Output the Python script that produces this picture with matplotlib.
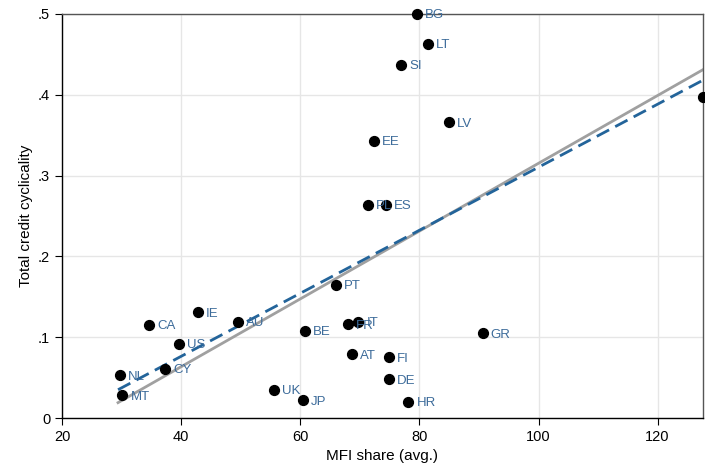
import numpy as np
import matplotlib.pyplot as plt
from matplotlib.ticker import FuncFormatter

plt.rcParams['font.family'] = ['Liberation Sans Narrow', 'Liberation Sans', 'DejaVu Sans']

# country points: MFI share vs total credit cyclicality
countries = ['BG', 'LT', 'SI', 'LV', 'EE', 'PL', 'ES', 'PT', 'FR', 'IT', 'BE',
             'AT', 'FI', 'DE', 'HR', 'UK', 'JP', 'GR', 'AU', 'IE', 'CA', 'US',
             'CY', 'NL', 'MT', '']
mfi_share = [79.6, 81.4, 76.9, 84.9, 72.3, 71.3, 74.4, 66.0, 68.0, 69.7, 60.8,
             68.7, 74.9, 74.9, 78.1, 55.6, 60.4, 90.6, 49.5, 42.8, 34.6, 39.6,
             37.3, 29.7, 30.1, 127.6]
cyclicality = [0.500, 0.463, 0.437, 0.366, 0.343, 0.264, 0.264, 0.165, 0.116,
               0.119, 0.108, 0.079, 0.075, 0.048, 0.020, 0.035, 0.022, 0.105,
               0.119, 0.131, 0.115, 0.092, 0.061, 0.053, 0.028, 0.397]

# fitted lines (endpoints)
fit_x = [29.4, 127.6]
fit_solid = [0.019, 0.431]
fit_dashed = [0.035, 0.418]

fig = plt.figure(figsize=(7.05, 4.66), dpi=100)
ax = fig.add_axes([0.088, 0.103, 0.909, 0.867])

ax.plot(fit_x, fit_solid, color='#a0a0a0', lw=2, zorder=2)
ax.plot(fit_x, fit_dashed, color='#23649a', lw=2, ls=(0, (5, 2.5)), zorder=3)

ax.scatter(mfi_share, cyclicality, s=50, color='black', zorder=4, clip_on=False)
for c, x, y in zip(countries, mfi_share, cyclicality):
    ax.annotate(c, (x, y), xytext=(6, -1), textcoords='offset points',
                va='center', ha='left', fontsize=9.5, color='#3c6b9a', zorder=5)

ax.set_xlim(20, 127.6)
ax.set_ylim(0, 0.5)
ax.set_xticks([20, 40, 60, 80, 100, 120])
ax.set_yticks([0, 0.1, 0.2, 0.3, 0.4, 0.5])
ax.yaxis.set_major_formatter(FuncFormatter(
    lambda v, p: '0' if v == 0 else ('%.1f' % v).lstrip('0')))
ax.grid(True, color='#e6e6e6', lw=1)
ax.set_axisbelow(True)
for s in ax.spines.values():
    s.set_color('#555555')
    s.set_linewidth(1)
ax.spines['bottom'].set_color('black')
ax.spines['left'].set_color('black')
ax.tick_params(direction='out', length=5, labelsize=10.5, colors='black')

ax.set_xlabel('MFI share (avg.)', fontsize=11)
ax.set_ylabel('Total credit cyclicality', fontsize=11)

fig.savefig('out.png', dpi=100)
